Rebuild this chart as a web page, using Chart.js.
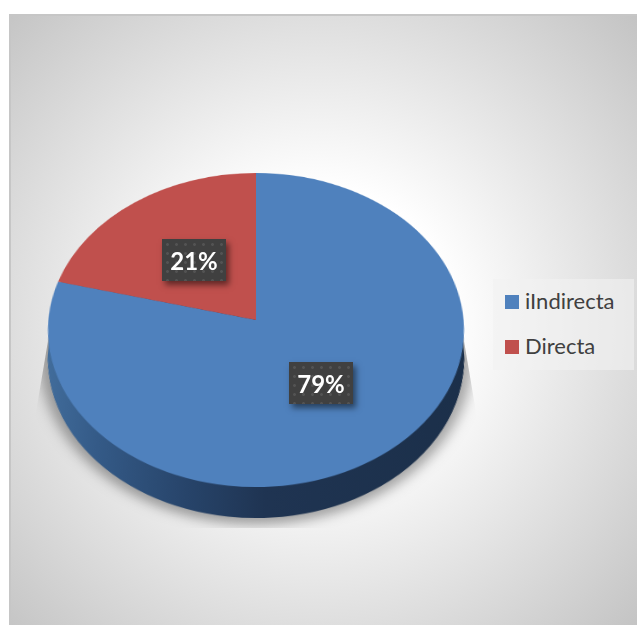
<!DOCTYPE html>
<html>
<head>
<meta charset="utf-8">
<script src="https://cdn.jsdelivr.net/npm/chart.js@4"></script>
<style>
  html, body { margin: 0; padding: 0; background: #fff; }
  #stage {
    position: absolute; left: 0; top: 0; width: 637px; height: 625px; overflow: hidden;
    background: radial-gradient(circle 445px at 318px 322px, #fff 0%, #fff 30%, #c3c3c3 100%);
    font-family: Lato, sans-serif;
  }
  #paper { position: absolute; left: 0; top: 0; width: 9px; height: 625px; background: #fff; }
  #paperTop { position: absolute; left: 0; top: 0; width: 637px; height: 14px; background: #fff; }
  #edgeTop { position: absolute; left: 9px; top: 14px; width: 628px; height: 2px; background: #c6c6c6; }
  #edgeLeft { position: absolute; left: 9px; top: 14px; width: 2px; height: 611px; background: #c6c6c6; }
  canvas { position: absolute; left: 0; top: 0; transform-origin: 0 0; }
  #shadowClip {
    position: absolute; left: 0; top: 0; width: 637px; height: 625px;
    clip-path: polygon(49px 335px, 35px 418px, 35px 528px, 477px 528px, 477px 418px, 463px 335px);
  }
  #shadowPie { filter: blur(6px); opacity: 0.34; }
  .tag {
    position: absolute; width: 64px; height: 42px; line-height: 44px; text-align: center;
    color: #fff; font-weight: 700; font-size: 24px;
    background-color: #404040;
    background-image: radial-gradient(circle, rgba(255,255,255,0.1) 1.2px, transparent 1.6px);
    background-size: 9px 9px;
    background-position: 1px 1px;
    box-shadow: 3px 4px 6px rgba(0,0,0,0.5);
  }
  #legendBox {
    position: absolute; left: 493px; top: 279px; width: 141px; height: 91px;
    background: rgba(242,242,242,0.6); color: #404040; font-size: 22px;
  }
  .key { position: absolute; left: 12px; width: 14px; height: 14px; }
  .name { position: absolute; left: 32px; line-height: 26px; white-space: nowrap; }
</style>
</head>
<body>
<div id="stage">
  <div id="shadowClip"><canvas id="shadowPie" width="420" height="420"></canvas></div>
  <canvas id="wallPie" width="420" height="420"></canvas>
  <canvas id="topPie" width="420" height="420"></canvas>
  <div id="legendBox"></div>
  <div id="paper"></div><div id="paperTop"></div><div id="edgeTop"></div><div id="edgeLeft"></div>
</div>
<script>
const categories = ["iIndirecta", "Directa"];
const shares = [79, 21];
const sliceColors = ["#4f81bd", "#c0504d"];

const SIZE = 420;
const RADIUS = 200;

// perspective tilt of the disc: canvas circle -> ellipse with a nearer lower half
function tilt(centerX, baseY, spreadX, spreadY, lean) {
  const k = lean / RADIUS;
  const m = 1 - (SIZE / 2) * k;
  const half = SIZE / 2 / RADIUS;
  return {
    m11: spreadX / RADIUS, m21: centerX * k, m41: centerX * m - half * spreadX,
    m22: spreadY / RADIUS, m42: baseY - half * spreadY,
    m24: k, m44: m,
  };
}

function applyTilt(canvas, t) {
  canvas.style.transform = "matrix3d(" + [
    t.m11, 0, 0, 0,
    t.m21, t.m22, 0, t.m24,
    0, 0, 1, 0,
    t.m41, t.m42, 0, t.m44,
  ].join(",") + ")";
}

function project(t, x, y) {
  const w = t.m24 * y + t.m44;
  return { x: (t.m11 * x + t.m21 * y + t.m41) / w, y: (t.m22 * y + t.m42) / w };
}

// redraws the arcs shifted upward so the two rims join into a solid side
const extrude = {
  id: "extrude",
  afterDatasetsDraw(chart) {
    const ctx = chart.ctx;
    const arcs = chart.getDatasetMeta(0).data;
    for (let k = 34; k > 0; k -= 1) {
      ctx.save();
      ctx.translate(0, -k);
      arcs.forEach((arc) => arc.draw(ctx));
      ctx.restore();
    }
  },
};

function makePie(id, colors, plugins) {
  return new Chart(document.getElementById(id), {
    type: "pie",
    data: {
      labels: categories,
      datasets: [{ data: shares, backgroundColor: colors, borderWidth: 0, clip: false }],
    },
    options: {
      responsive: false,
      animation: false,
      layout: { padding: 10 },
      plugins: { legend: { display: false }, tooltip: { enabled: false } },
    },
    plugins: plugins,
  });
}

// side of the disc goes from mid blue on the left to near navy
function wallGradient(context) {
  const g = context.chart.ctx.createLinearGradient(0, 0, SIZE, 0);
  g.addColorStop(0.0, "#44709f");
  g.addColorStop(0.15, "#345a87");
  g.addColorStop(0.35, "#27446a");
  g.addColorStop(0.52, "#1f3452");
  g.addColorStop(1, "#1b2f49");
  return g;
}

const topTilt = tilt(256, 320, 207.6, 136, -0.0637);
const wallTilt = tilt(256, 349, 207.6, 136, -0.0637);
const shadowTilt = tilt(256, 347, 216, 144, -0.0637);

applyTilt(document.getElementById("topPie"), topTilt);
applyTilt(document.getElementById("wallPie"), wallTilt);
applyTilt(document.getElementById("shadowPie"), shadowTilt);

makePie("shadowPie", "#000", [extrude]);
makePie("wallPie", wallGradient, [extrude]);
const pie = makePie("topPie", sliceColors, []);

// value tags sit on the middle of each slice
const stage = document.getElementById("stage");
const legendBox = document.getElementById("legendBox");
pie.getDatasetMeta(0).data.forEach((arc, i) => {
  const c = arc.getCenterPoint();
  const p = project(topTilt, c.x, c.y);
  const tag = document.createElement("div");
  tag.className = "tag";
  tag.textContent = shares[i] + "%";
  tag.style.left = Math.round(p.x - 32) + "px";
  tag.style.top = Math.round(p.y - 21) + "px";
  stage.insertBefore(tag, legendBox);
});

categories.forEach((name, i) => {
  const key = document.createElement("div");
  key.className = "key";
  key.style.top = 16 + i * 45 + "px";
  key.style.background = sliceColors[i];
  const label = document.createElement("div");
  label.className = "name";
  label.style.top = 9 + i * 45 + "px";
  label.textContent = name;
  legendBox.appendChild(key);
  legendBox.appendChild(label);
});
</script>
</body>
</html>
